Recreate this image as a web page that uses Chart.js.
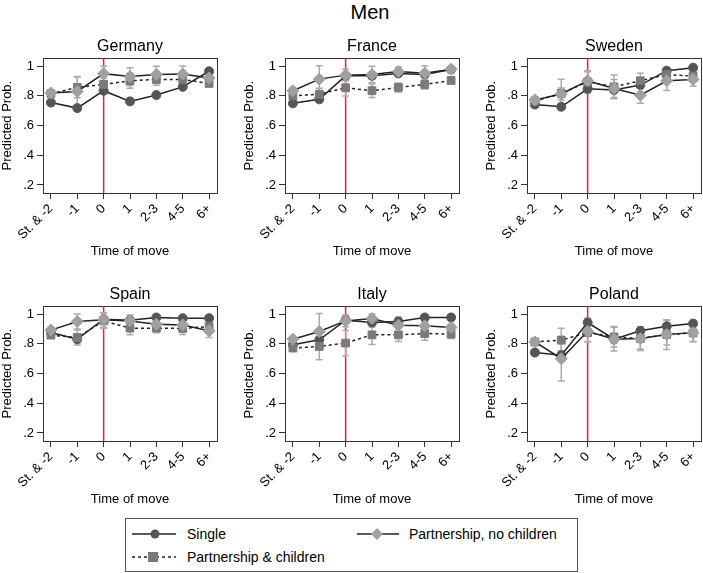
<!DOCTYPE html>
<html>
<head>
<meta charset="utf-8">
<script src="https://cdn.jsdelivr.net/npm/chart.js@4.4.0/dist/chart.umd.min.js"></script>
<style>
    body {
        margin: 0;
        width: 703px;
        height: 573px;
        overflow: hidden;
        position: relative;
        background: #fff;
        font-family: 'Liberation Sans', Arial, sans-serif;
    }
    canvas { position: absolute; }
    #main_title {
        position: absolute;
        left: 320px;
        top: 0;
        width: 100px;
        line-height: 24px;
        font-size: 20px;
        text-align: center;
        color: #000;
    }
    #legend {
        position: absolute;
        left: 125px;
        top: 518px;
        width: 451px;
        height: 52px;
        border: 1px solid #555;
        font-size: 14px;
        color: #000;
    }
    #legend span, #legend svg { position: absolute; }
</style>
</head>
<body>
<div id="main_title">Men</div>

<canvas id="germany" width="230" height="233" style="left:0;top:30px"></canvas>
<canvas id="france" width="230" height="233" style="left:242px;top:30px"></canvas>
<canvas id="sweden" width="230" height="233" style="left:484px;top:30px"></canvas>
<canvas id="spain" width="230" height="233" style="left:0;top:278px"></canvas>
<canvas id="italy" width="230" height="233" style="left:242px;top:278px"></canvas>
<canvas id="poland" width="230" height="233" style="left:484px;top:278px"></canvas>

<div id="legend">
    <svg style="left:6px;top:8px" width="44" height="14">
        <line x1="0" y1="7" x2="44" y2="7" stroke="#222" stroke-width="1.5"/>
        <circle cx="23" cy="7" r="4.5" fill="#555"/>
    </svg>
    <span style="left:61px;top:7px">Single</span>
    <svg style="left:231px;top:8px" width="42" height="14">
        <line x1="0" y1="7" x2="42" y2="7" stroke="#222" stroke-width="1.5"/>
        <polygon points="20,1 26,7 20,13 14,7" fill="#a0a0a0"/>
    </svg>
    <span style="left:283px;top:7px">Partnership, no children</span>
    <svg style="left:6px;top:31px" width="44" height="14">
        <line x1="0" y1="7" x2="44" y2="7" stroke="#222" stroke-width="1.5" stroke-dasharray="3,3"/>
        <rect x="16" y="2" width="10" height="10" fill="#7a7a7a"/>
    </svg>
    <span style="left:61px;top:30px">Partnership &amp; children</span>
</div>

<script>
const categories = ['St. & -2', '-1', '0', '1', '2-3', '4-5', '6+'];
const moveIndex = 2;
const yTicks = [0.2, 0.4, 0.6, 0.8, 1];
const yTickLabels = ['.2', '.4', '.6', '.8', '1'];

// predicted probabilities (point estimates)
const germanySingle = [0.755, 0.718, 0.835, 0.763, 0.806, 0.861, 0.966];
const germanyNoKids = [0.820, 0.830, 0.950, 0.930, 0.945, 0.947, 0.920];
const germanyKids = [0.815, 0.857, 0.877, 0.902, 0.911, 0.911, 0.884];

const franceSingle = [0.750, 0.777, 0.935, 0.935, 0.951, 0.944, 0.978];
const franceNoKids = [0.835, 0.913, 0.940, 0.944, 0.964, 0.953, 0.980];
const franceKids = [0.800, 0.812, 0.855, 0.835, 0.857, 0.877, 0.904];

const swedenSingle = [0.742, 0.727, 0.848, 0.840, 0.873, 0.970, 0.990];
const swedenNoKids = [0.773, 0.813, 0.902, 0.850, 0.805, 0.902, 0.910];
const swedenKids = [0.765, 0.817, 0.895, 0.861, 0.902, 0.944, 0.933];

const spainSingle = [0.877, 0.832, 0.966, 0.960, 0.978, 0.973, 0.973];
const spainNoKids = [0.893, 0.951, 0.962, 0.955, 0.933, 0.928, 0.888];
const spainKids = [0.859, 0.843, 0.955, 0.906, 0.906, 0.904, 0.917];

const italySingle = [0.794, 0.828, 0.960, 0.944, 0.951, 0.978, 0.978];
const italyNoKids = [0.832, 0.884, 0.955, 0.971, 0.926, 0.922, 0.911];
const italyKids = [0.772, 0.783, 0.806, 0.861, 0.861, 0.870, 0.866];

const polandSingle = [0.742, 0.724, 0.944, 0.832, 0.888, 0.919, 0.937];
const polandNoKids = [0.813, 0.700, 0.885, 0.832, 0.836, 0.863, 0.876];
const polandKids = [0.813, 0.825, 0.876, 0.847, 0.836, 0.863, 0.874];

// half-widths of the confidence intervals
const germanySingleErr = [0.015, 0.020, 0.020, 0.020, 0.015, 0.015, 0.015];
const germanyNoKidsErr = [0.020, 0.100, 0.050, 0.060, 0.055, 0.055, 0.030];
const germanyKidsErr = [0.020, 0.070, 0.040, 0.050, 0.040, 0.040, 0.020];

const franceSingleErr = [0.015, 0.020, 0.020, 0.020, 0.015, 0.015, 0.010];
const franceNoKidsErr = [0.020, 0.090, 0.040, 0.056, 0.030, 0.050, 0.015];
const franceKidsErr = [0.020, 0.040, 0.055, 0.045, 0.030, 0.030, 0.020];

const swedenSingleErr = [0.015, 0.020, 0.020, 0.020, 0.020, 0.015, 0.010];
const swedenNoKidsErr = [0.020, 0.040, 0.060, 0.060, 0.055, 0.066, 0.045];
const swedenKidsErr = [0.020, 0.095, 0.075, 0.080, 0.050, 0.040, 0.030];

const spainSingleErr = [0.015, 0.025, 0.015, 0.015, 0.010, 0.010, 0.010];
const spainNoKidsErr = [0.020, 0.050, 0.050, 0.040, 0.030, 0.040, 0.045];
const spainKidsErr = [0.020, 0.050, 0.050, 0.045, 0.030, 0.040, 0.040];

const italySingleErr = [0.020, 0.040, 0.025, 0.030, 0.030, 0.020, 0.010];
const italyNoKidsErr = [0.020, 0.120, 0.040, 0.030, 0.050, 0.030, 0.020];
const italyKidsErr = [0.020, 0.090, 0.085, 0.065, 0.045, 0.045, 0.030];

const polandSingleErr = [0.015, 0.030, 0.030, 0.030, 0.025, 0.040, 0.020];
const polandNoKidsErr = [0.020, 0.150, 0.070, 0.080, 0.080, 0.100, 0.060];
const polandKidsErr = [0.020, 0.080, 0.060, 0.070, 0.070, 0.070, 0.060];

const fontFamily = "'Liberation Sans', Arial, sans-serif";

// red line at the move and error bars, both under the markers
const panelDecor = {
    id: 'panelDecor',
    beforeDatasetsDraw(chart) {
        const {ctx, scales: {x, y}} = chart;
        ctx.save();
        const x0 = x.getPixelForValue(moveIndex);
        ctx.strokeStyle = '#f0201c';
        ctx.lineWidth = 1.5;
        ctx.beginPath();
        ctx.moveTo(x0, y.top);
        ctx.lineTo(x0, y.bottom);
        ctx.stroke();

        ctx.strokeStyle = '#ababab';
        chart.data.datasets.forEach(ds => {
            ds.data.forEach((p, i) => {
                const e = ds.errorBars[i];
                const px = x.getPixelForValue(p.x);
                const top = y.getPixelForValue(p.y + e);
                const bot = y.getPixelForValue(p.y - e);
                ctx.beginPath();
                ctx.moveTo(px, top);
                ctx.lineTo(px, bot);
                ctx.moveTo(px - 3.5, top);
                ctx.lineTo(px + 3.5, top);
                ctx.moveTo(px - 3.5, bot);
                ctx.lineTo(px + 3.5, bot);
                ctx.stroke();
            });
        });
        ctx.restore();
    }
};

function toPoints(values) {
    return values.map((v, i) => ({x: i, y: v}));
}

const frameBorder = {display: true, color: '#333', width: 1};

function makePanel(canvasId, name, single, noKids, kids, singleErr, noKidsErr, kidsErr) {
    const ctx = document.getElementById(canvasId).getContext('2d');
    return new Chart(ctx, {
        type: 'line',
        data: {
            datasets: [{
                label: 'Single',
                data: toPoints(single),
                errorBars: singleErr,
                xAxisID: 'x',
                yAxisID: 'y',
                borderColor: '#222',
                borderWidth: 1.5,
                pointRadius: 4.5,
                pointBackgroundColor: '#555',
                pointBorderColor: '#555',
                pointBorderWidth: 1,
                order: 3
            }, {
                label: 'Partnership & children',
                data: toPoints(kids),
                errorBars: kidsErr,
                xAxisID: 'x',
                yAxisID: 'y',
                borderColor: '#222',
                borderWidth: 1.5,
                borderDash: [3, 3],
                pointStyle: 'rect',
                pointRadius: 5.5,
                pointBackgroundColor: '#7a7a7a',
                pointBorderColor: '#7a7a7a',
                pointBorderWidth: 1,
                order: 2
            }, {
                label: 'Partnership, no children',
                data: toPoints(noKids),
                errorBars: noKidsErr,
                xAxisID: 'x',
                yAxisID: 'y',
                borderColor: '#222',
                borderWidth: 1.5,
                pointStyle: 'rectRot',
                pointRadius: 6,
                pointBackgroundColor: '#a0a0a0',
                pointBorderColor: '#a0a0a0',
                pointBorderWidth: 1,
                order: 1
            }]
        },
        options: {
            responsive: false,
            animation: false,
            layout: {padding: {left: 0, right: 13, top: 0, bottom: 0}},
            scales: {
                x: {
                    type: 'linear',
                    position: 'bottom',
                    min: -0.3,
                    max: 6.3,
                    afterBuildTicks: scale => {
                        scale.ticks = categories.map((c, i) => ({value: i}));
                    },
                    afterFit: scale => { scale.height = 70; },
                    ticks: {
                        callback: value => categories[value],
                        minRotation: 45,
                        maxRotation: 45,
                        autoSkip: false,
                        padding: 2,
                        color: '#000',
                        font: {family: fontFamily, size: 13}
                    },
                    grid: {drawOnChartArea: false, tickLength: 6, color: '#333'},
                    border: frameBorder,
                    title: {
                        display: true,
                        text: 'Time of move',
                        color: '#000',
                        font: {family: fontFamily, size: 13},
                        padding: {top: 0, bottom: 4}
                    }
                },
                y: {
                    position: 'left',
                    min: 0.146,
                    max: 1.054,
                    afterBuildTicks: scale => {
                        scale.ticks = yTicks.map(v => ({value: v}));
                    },
                    afterFit: scale => { scale.width = 43; },
                    ticks: {
                        callback: (value, index) => yTickLabels[index],
                        padding: 3,
                        color: '#000',
                        font: {family: fontFamily, size: 13}
                    },
                    grid: {drawOnChartArea: false, tickLength: 6, color: '#333'},
                    border: frameBorder,
                    title: {
                        display: true,
                        text: 'Predicted Prob.',
                        color: '#000',
                        font: {family: fontFamily, size: 13},
                        padding: {top: 0, bottom: 0}
                    }
                },
                // top and right edges of the plot frame
                xTop: {
                    type: 'linear',
                    axis: 'x',
                    position: 'top',
                    min: -0.3,
                    max: 6.3,
                    ticks: {display: false},
                    grid: {display: false, drawTicks: false},
                    border: frameBorder
                },
                yRight: {
                    type: 'linear',
                    axis: 'y',
                    position: 'right',
                    min: 0.146,
                    max: 1.054,
                    ticks: {display: false},
                    grid: {display: false, drawTicks: false},
                    border: frameBorder
                }
            },
            plugins: {
                legend: {display: false},
                tooltip: {enabled: false},
                title: {
                    display: true,
                    text: name,
                    fullSize: false,
                    color: '#000',
                    font: {family: fontFamily, size: 16, weight: 'normal'},
                    padding: {top: 7, bottom: 2}
                }
            }
        },
        plugins: [panelDecor]
    });
}

makePanel('germany', 'Germany', germanySingle, germanyNoKids, germanyKids, germanySingleErr, germanyNoKidsErr, germanyKidsErr);
makePanel('france', 'France', franceSingle, franceNoKids, franceKids, franceSingleErr, franceNoKidsErr, franceKidsErr);
makePanel('sweden', 'Sweden', swedenSingle, swedenNoKids, swedenKids, swedenSingleErr, swedenNoKidsErr, swedenKidsErr);
makePanel('spain', 'Spain', spainSingle, spainNoKids, spainKids, spainSingleErr, spainNoKidsErr, spainKidsErr);
makePanel('italy', 'Italy', italySingle, italyNoKids, italyKids, italySingleErr, italyNoKidsErr, italyKidsErr);
makePanel('poland', 'Poland', polandSingle, polandNoKids, polandKids, polandSingleErr, polandNoKidsErr, polandKidsErr);
</script>
</body>
</html>
